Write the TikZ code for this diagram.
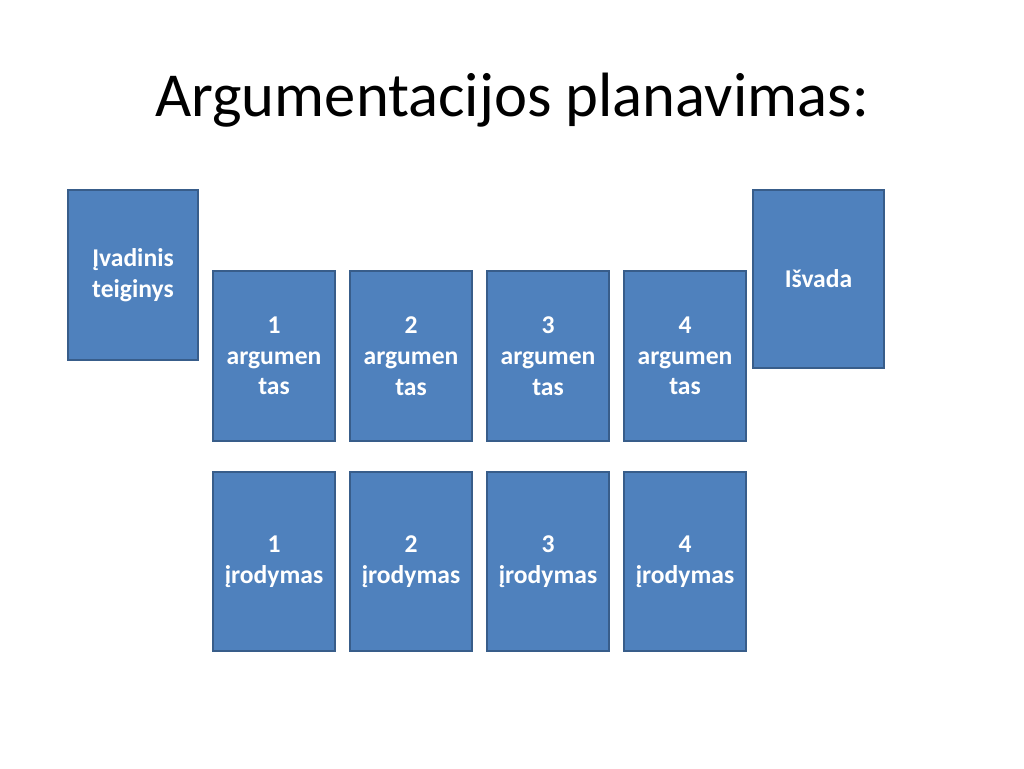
\documentclass[tikz,border=0pt]{standalone}
\usepackage{fontspec}
\setmainfont{Carlito}
\definecolor{boxfill}{HTML}{4F81BD}
\definecolor{boxline}{HTML}{385D8A}
\begin{document}
\begin{tikzpicture}[x=1pt,y=-1pt,
  card/.style={draw=boxline,fill=boxfill,line width=2.5pt,text=white,
    font=\fontsize{25.6}{30.7}\selectfont\bfseries,align=center,inner sep=0pt},
  ]
\useasboundingbox (0,0) rectangle (1024,768);
\node[font=\fontsize{62.6}{75}\selectfont] (title) at (512,100) {Argumentacijos planavimas:};
\node[card,minimum width=130pt,minimum height=170pt] (ivad) at (133,275) {Įvadinis\\teiginys};
\node[card,minimum width=131pt,minimum height=178pt] (isv) at (818.5,279) {Išvada};
\foreach \i/\x in {1/274,2/411,3/548,4/685}{
  \node[card,minimum width=122pt,minimum height=170pt] (arg\i) at (\x,356) {\i\\argumen\\tas};
  \node[card,minimum width=122pt,minimum height=179pt] (iro\i) at (\x,561.5) {\i\\įrodymas};
}
\end{tikzpicture}
\end{document}
